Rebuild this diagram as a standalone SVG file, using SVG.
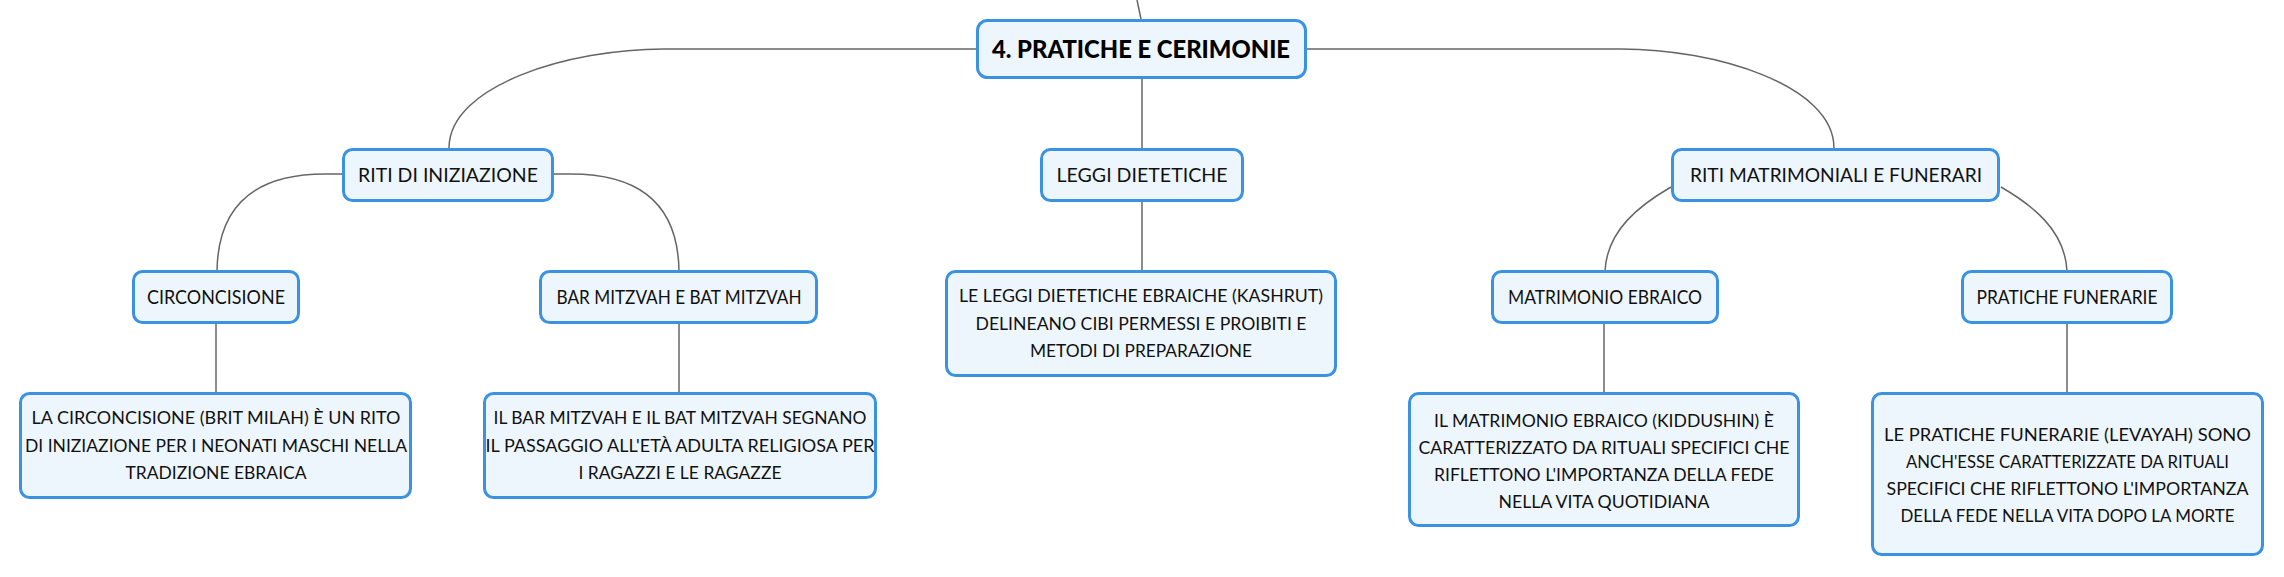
<svg xmlns="http://www.w3.org/2000/svg" width="2284" height="577" viewBox="0 0 2284 577">
<style>
.box{fill:#EEF6FD;stroke:#3A92E0;stroke-width:3}
.con{fill:none;stroke:#666;stroke-width:1.5}
text{font-family:Lato,"Open Sans","Liberation Sans",sans-serif;fill:#111;text-anchor:middle}
.lab{font-size:19px}
.desc{font-size:17px}
.main{font-size:24px;font-weight:900;fill:#000}
</style>
<rect width="2284" height="577" fill="#fff"/>
<g id="connectors">
<path class="con" d="M1137,0 L1141,19"/>
<path class="con" d="M976,49 L664,49 C570,49 449,85 449,148"/>
<path class="con" d="M1142,79 L1142,148"/>
<path class="con" d="M1307,49 L1621,49 C1715,49 1834,85 1834,148"/>
<path class="con" d="M342,174 L325,174 C258,174 218,203 217,271"/>
<path class="con" d="M554,174 L571,174 C638,174 678,203 679,271"/>
<path class="con" d="M1142,202 L1142,271"/>
<path class="con" d="M1671,187 C1640,205 1607,230 1605,271"/>
<path class="con" d="M2001,187 C2032,205 2065,230 2067,271"/>
<path class="con" d="M216,324 L216,393"/>
<path class="con" d="M679,324 L679,393"/>
<path class="con" d="M1604,324 L1604,393"/>
<path class="con" d="M2067,324 L2067,393"/>
</g>
<g id="main">
<rect class="box" x="977.5" y="20.5" width="328" height="57" rx="10"/>
<text class="main" x="1141" y="57.6" textLength="298" lengthAdjust="spacingAndGlyphs">4. PRATICHE E CERIMONIE</text>
</g>
<g id="riti-iniziazione">
<rect class="box" x="343.5" y="149.5" width="209" height="51" rx="9"/>
<text class="lab" x="448" y="182" textLength="180" lengthAdjust="spacingAndGlyphs">RITI DI INIZIAZIONE</text>
</g>
<g id="leggi-dietetiche">
<rect class="box" x="1041.5" y="149.5" width="201" height="51" rx="9"/>
<text class="lab" x="1142" y="182" textLength="171" lengthAdjust="spacingAndGlyphs">LEGGI DIETETICHE</text>
</g>
<g id="riti-matrimoniali">
<rect class="box" x="1672.5" y="149.5" width="326" height="51" rx="9"/>
<text class="lab" x="1836" y="182" textLength="292" lengthAdjust="spacingAndGlyphs">RITI MATRIMONIALI E FUNERARI</text>
</g>
<g id="circoncisione">
<rect class="box" x="133.5" y="271.5" width="165" height="51" rx="9"/>
<text class="lab" x="216" y="304.3" textLength="138" lengthAdjust="spacingAndGlyphs">CIRCONCISIONE</text>
</g>
<g id="bar-mitzvah">
<rect class="box" x="540.5" y="271.5" width="276" height="51" rx="9"/>
<text class="lab" x="679" y="304.3" textLength="245" lengthAdjust="spacingAndGlyphs">BAR MITZVAH E BAT MITZVAH</text>
</g>
<g id="leggi-desc">
<rect class="box" x="946.5" y="271.5" width="389" height="104" rx="9"/>
<text class="desc" x="1141" y="302" textLength="364" lengthAdjust="spacingAndGlyphs">LE LEGGI DIETETICHE EBRAICHE (KASHRUT)</text>
<text class="desc" x="1141" y="329.5" textLength="331" lengthAdjust="spacingAndGlyphs">DELINEANO CIBI PERMESSI E PROIBITI E</text>
<text class="desc" x="1141" y="357" textLength="222" lengthAdjust="spacingAndGlyphs">METODI DI PREPARAZIONE</text>
</g>
<g id="matrimonio-ebraico">
<rect class="box" x="1492.5" y="271.5" width="225" height="51" rx="9"/>
<text class="lab" x="1605" y="304.3" textLength="194" lengthAdjust="spacingAndGlyphs">MATRIMONIO EBRAICO</text>
</g>
<g id="pratiche-funerarie">
<rect class="box" x="1962.5" y="271.5" width="209" height="51" rx="9"/>
<text class="lab" x="2067" y="304.3" textLength="181" lengthAdjust="spacingAndGlyphs">PRATICHE FUNERARIE</text>
</g>
<g id="circoncisione-desc">
<rect class="box" x="20.5" y="393.5" width="390" height="104" rx="9"/>
<text class="desc" x="216" y="424" textLength="369" lengthAdjust="spacingAndGlyphs">LA CIRCONCISIONE (BRIT MILAH) È UN RITO</text>
<text class="desc" x="216" y="451.5" textLength="382" lengthAdjust="spacingAndGlyphs">DI INIZIAZIONE PER I NEONATI MASCHI NELLA</text>
<text class="desc" x="216" y="479" textLength="181" lengthAdjust="spacingAndGlyphs">TRADIZIONE EBRAICA</text>
</g>
<g id="bar-mitzvah-desc">
<rect class="box" x="484.5" y="393.5" width="391" height="104" rx="9"/>
<text class="desc" x="680" y="424" textLength="373" lengthAdjust="spacingAndGlyphs">IL BAR MITZVAH E IL BAT MITZVAH SEGNANO</text>
<text class="desc" x="680" y="451.5" textLength="389" lengthAdjust="spacingAndGlyphs">IL PASSAGGIO ALL'ETÀ ADULTA RELIGIOSA PER</text>
<text class="desc" x="680" y="479" textLength="203" lengthAdjust="spacingAndGlyphs">I RAGAZZI E LE RAGAZZE</text>
</g>
<g id="matrimonio-desc">
<rect class="box" x="1409.5" y="393.5" width="389" height="132" rx="9"/>
<text class="desc" x="1604" y="427" textLength="340" lengthAdjust="spacingAndGlyphs">IL MATRIMONIO EBRAICO (KIDDUSHIN) È</text>
<text class="desc" x="1604" y="454" textLength="371" lengthAdjust="spacingAndGlyphs">CARATTERIZZATO DA RITUALI SPECIFICI CHE</text>
<text class="desc" x="1604" y="481" textLength="340" lengthAdjust="spacingAndGlyphs">RIFLETTONO L'IMPORTANZA DELLA FEDE</text>
<text class="desc" x="1604" y="508" textLength="211" lengthAdjust="spacingAndGlyphs">NELLA VITA QUOTIDIANA</text>
</g>
<g id="pratiche-desc">
<rect class="box" x="1872.5" y="393.5" width="390" height="161" rx="9"/>
<text class="desc" x="2067.5" y="441" textLength="367" lengthAdjust="spacingAndGlyphs">LE PRATICHE FUNERARIE (LEVAYAH) SONO</text>
<text class="desc" x="2067.5" y="468" textLength="323" lengthAdjust="spacingAndGlyphs">ANCH'ESSE CARATTERIZZATE DA RITUALI</text>
<text class="desc" x="2067.5" y="494.5" textLength="362" lengthAdjust="spacingAndGlyphs">SPECIFICI CHE RIFLETTONO L'IMPORTANZA</text>
<text class="desc" x="2067.5" y="521.5" textLength="334" lengthAdjust="spacingAndGlyphs">DELLA FEDE NELLA VITA DOPO LA MORTE</text>
</g>
</svg>
